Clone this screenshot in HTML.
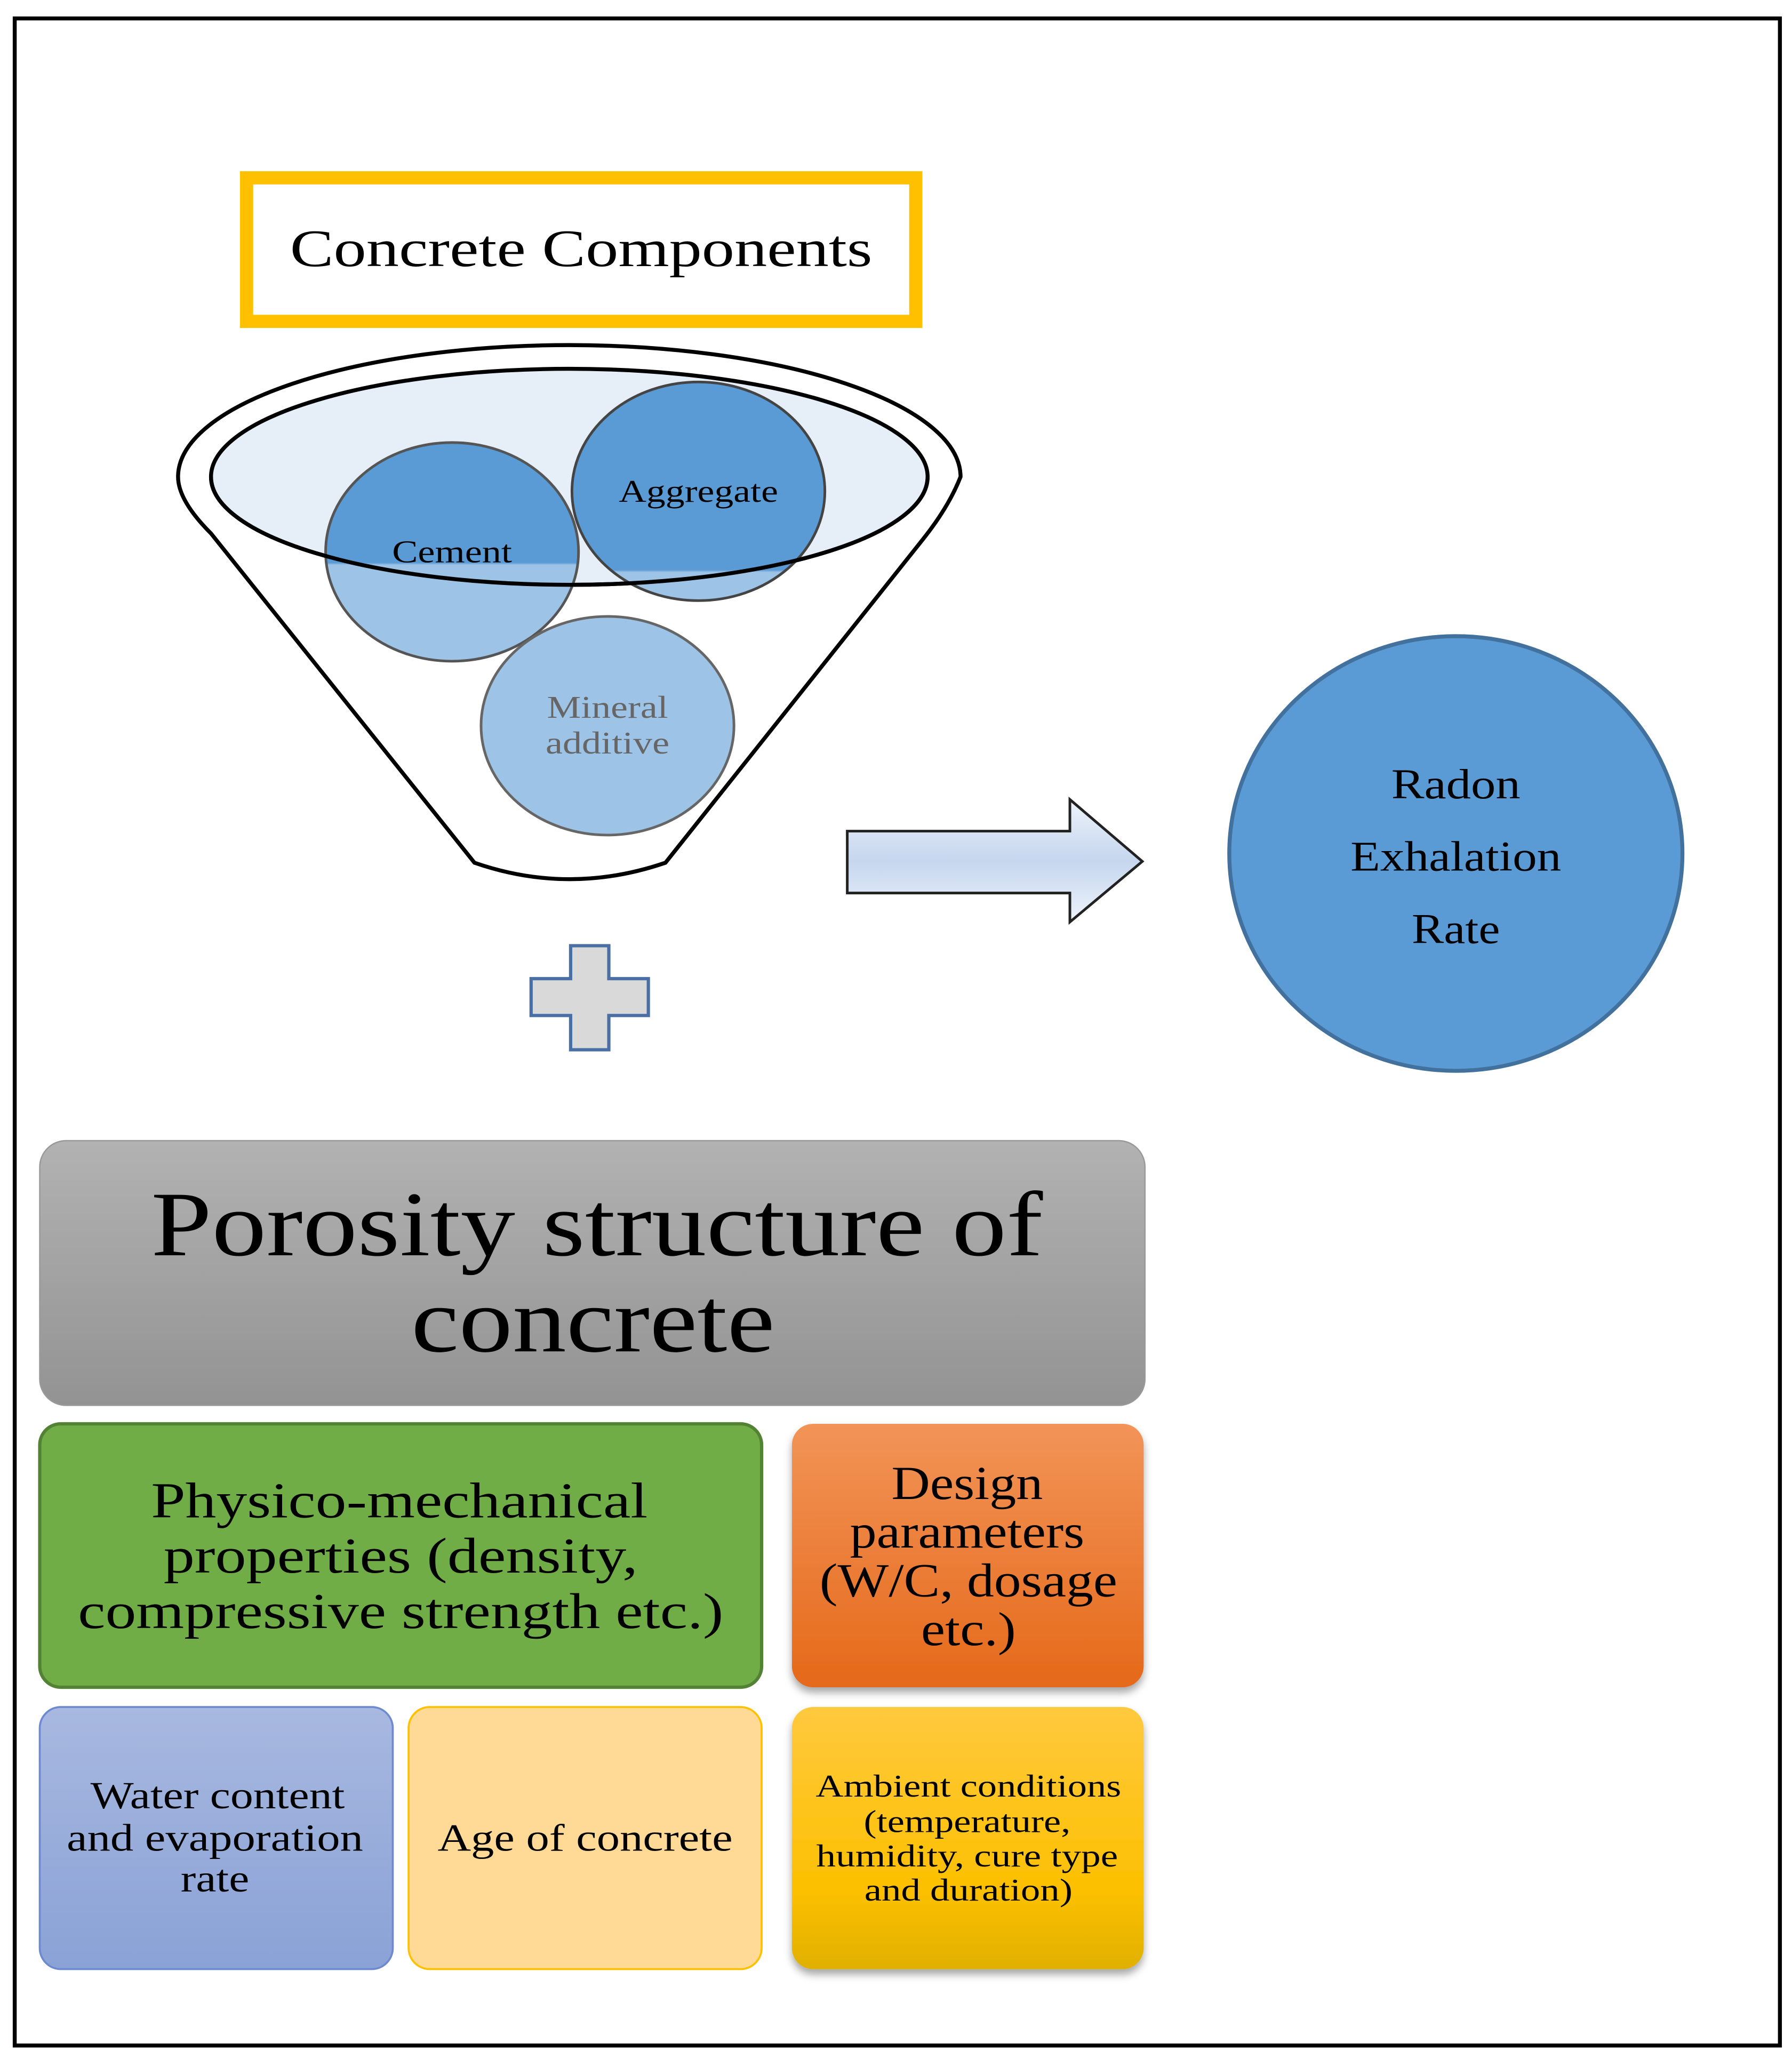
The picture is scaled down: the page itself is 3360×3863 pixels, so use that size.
<!DOCTYPE html>
<html><head><meta charset="utf-8"><style>
html,body{margin:0;padding:0;background:#fff;}
svg{display:block;}
text{font-family:"Liberation Serif",serif;fill:#000;}
</style></head><body>
<svg width="3360" height="3863" viewBox="0 0 1360 1564" xmlns="http://www.w3.org/2000/svg">
<defs>
<linearGradient id="gPor" x1="0" y1="0" x2="0" y2="1"><stop offset="0" stop-color="#b2b2b2"/><stop offset="1" stop-color="#939393"/></linearGradient>
<linearGradient id="gOr" x1="0" y1="0" x2="0" y2="1"><stop offset="0" stop-color="#f29458"/><stop offset="1" stop-color="#e5691a"/></linearGradient>
<linearGradient id="gBl" x1="0" y1="0" x2="0" y2="1"><stop offset="0" stop-color="#a8b8e0"/><stop offset="1" stop-color="#8aa2d6"/></linearGradient>
<linearGradient id="gYe" x1="0" y1="0" x2="0" y2="1"><stop offset="0" stop-color="#ffc93f"/><stop offset="0.7" stop-color="#fcc000"/><stop offset="1" stop-color="#e0b000"/></linearGradient>
<linearGradient id="gArr" x1="0" y1="0" x2="0" y2="1"><stop offset="0" stop-color="#eef3fa"/><stop offset="0.5" stop-color="#c5d6ee"/><stop offset="1" stop-color="#eef3fa"/></linearGradient>
<linearGradient id="gCem" x1="0" y1="0" x2="0" y2="1"><stop offset="0" stop-color="#5b9bd5"/><stop offset="0.55" stop-color="#5b9bd5"/><stop offset="0.56" stop-color="#9dc3e6"/><stop offset="1" stop-color="#9dc3e6"/></linearGradient>
<linearGradient id="gAgg" x1="0" y1="0" x2="0" y2="1"><stop offset="0" stop-color="#5b9bd5"/><stop offset="0.86" stop-color="#5b9bd5"/><stop offset="0.87" stop-color="#9dc3e6"/><stop offset="1" stop-color="#9dc3e6"/></linearGradient>
<filter id="sh" x="-10%" y="-10%" width="120%" height="130%"><feDropShadow dx="0" dy="4" stdDeviation="3" flood-color="#000" flood-opacity="0.35"/></filter>
</defs>
<rect x="11" y="14" width="1340" height="1539" fill="#fff" stroke="#000" stroke-width="3"/>
<rect x="187" y="135" width="508" height="109" fill="#fff" stroke="#ffc000" stroke-width="10"/>
<text x="441" y="202" font-size="40" text-anchor="middle" textLength="442" lengthAdjust="spacingAndGlyphs">Concrete Components</text>
<path d="M135,362 A297,100 0 0 1 729,362 Q720,385 700,410 L505,655 Q432,680 360,655 L160,405 Q135,380 135,362 Z" fill="#fff" stroke="#000" stroke-width="3"/>
<ellipse cx="432" cy="362" rx="272" ry="82" fill="#e6eef8" stroke="#000" stroke-width="3"/>
<ellipse cx="343" cy="419" rx="96" ry="83" fill="url(#gCem)" stroke="#555" stroke-width="2"/>
<ellipse cx="530" cy="373" rx="96" ry="83" fill="url(#gAgg)" stroke="#444" stroke-width="2"/>
<path d="M160,362 A272,82 0 0 0 704,362" fill="none" stroke="#000" stroke-width="3"/>
<ellipse cx="461" cy="551" rx="96" ry="83" fill="#9dc3e6" stroke="#666" stroke-width="2"/>
<text x="343" y="427" font-size="24" text-anchor="middle" textLength="91" lengthAdjust="spacingAndGlyphs">Cement</text>
<text x="530" y="381" font-size="24" text-anchor="middle" textLength="121" lengthAdjust="spacingAndGlyphs">Aggregate</text>
<text x="461" y="545" font-size="24" text-anchor="middle" style="fill:#666" textLength="92" lengthAdjust="spacingAndGlyphs">Mineral</text>
<text x="461" y="572" font-size="24" text-anchor="middle" style="fill:#666" textLength="94" lengthAdjust="spacingAndGlyphs">additive</text>
<path d="M643,631 L812,631 L812,607 L867,654 L812,700 L812,678 L643,678 Z" fill="url(#gArr)" stroke="#222" stroke-width="2"/>
<ellipse cx="1105" cy="648" rx="172" ry="165" fill="#5b9bd5" stroke="#41719c" stroke-width="3"/>
<text x="1105" y="606" font-size="32" text-anchor="middle" textLength="98" lengthAdjust="spacingAndGlyphs">Radon</text>
<text x="1105" y="661" font-size="32" text-anchor="middle" textLength="160" lengthAdjust="spacingAndGlyphs">Exhalation</text>
<text x="1105" y="716" font-size="32" text-anchor="middle" textLength="67" lengthAdjust="spacingAndGlyphs">Rate</text>
<path d="M433,718 L462,718 L462,743 L492,743 L492,771 L462,771 L462,797 L433,797 L433,771 L403,771 L403,743 L433,743 Z" fill="#d9d9d9" stroke="#4a6fa5" stroke-width="2.5"/>
<rect x="30" y="866" width="839" height="201" rx="20" fill="url(#gPor)" stroke="#999" stroke-width="1"/>
<text x="453" y="953" font-size="70" text-anchor="middle" textLength="677" lengthAdjust="spacingAndGlyphs">Porosity structure of</text>
<text x="450" y="1026" font-size="70" text-anchor="middle" textLength="276" lengthAdjust="spacingAndGlyphs">concrete</text>
<rect x="30" y="1081" width="548" height="200" rx="16" fill="#70ad47" stroke="#548235" stroke-width="2.5"/>
<text x="303" y="1152" font-size="38" text-anchor="middle" textLength="377" lengthAdjust="spacingAndGlyphs">Physico-mechanical</text>
<text x="304" y="1194" font-size="38" text-anchor="middle" textLength="360" lengthAdjust="spacingAndGlyphs">properties (density,</text>
<text x="304" y="1236" font-size="38" text-anchor="middle" textLength="490" lengthAdjust="spacingAndGlyphs">compressive strength etc.)</text>
<rect x="601" y="1081" width="267" height="200" rx="16" fill="url(#gOr)" filter="url(#sh)"/>
<text x="734" y="1138" font-size="36" text-anchor="middle" textLength="115" lengthAdjust="spacingAndGlyphs">Design</text>
<text x="734" y="1175" font-size="36" text-anchor="middle" textLength="178" lengthAdjust="spacingAndGlyphs">parameters</text>
<text x="735" y="1212" font-size="36" text-anchor="middle" textLength="226" lengthAdjust="spacingAndGlyphs">(W/C, dosage</text>
<text x="735" y="1249" font-size="36" text-anchor="middle" textLength="72" lengthAdjust="spacingAndGlyphs">etc.)</text>
<rect x="30" y="1296" width="268" height="199" rx="16" fill="url(#gBl)" stroke="#6d8ad0" stroke-width="1.5"/>
<text x="165" y="1373" font-size="29" text-anchor="middle" textLength="193" lengthAdjust="spacingAndGlyphs">Water content</text>
<text x="163" y="1405" font-size="29" text-anchor="middle" textLength="225" lengthAdjust="spacingAndGlyphs">and evaporation</text>
<text x="163" y="1436" font-size="29" text-anchor="middle" textLength="52" lengthAdjust="spacingAndGlyphs">rate</text>
<rect x="310" y="1296" width="268" height="199" rx="16" fill="#ffd996" stroke="#ffc000" stroke-width="1.5"/>
<text x="444" y="1405" font-size="29" text-anchor="middle" textLength="224" lengthAdjust="spacingAndGlyphs">Age of concrete</text>
<rect x="601" y="1296" width="267" height="199" rx="16" fill="url(#gYe)" filter="url(#sh)"/>
<text x="735" y="1364" font-size="24" text-anchor="middle" textLength="232" lengthAdjust="spacingAndGlyphs">Ambient conditions</text>
<text x="734" y="1391" font-size="24" text-anchor="middle" textLength="157" lengthAdjust="spacingAndGlyphs">(temperature,</text>
<text x="734" y="1417" font-size="24" text-anchor="middle" textLength="229" lengthAdjust="spacingAndGlyphs">humidity, cure type</text>
<text x="735" y="1443" font-size="24" text-anchor="middle" textLength="158" lengthAdjust="spacingAndGlyphs">and duration)</text>
</svg>
</body></html>
